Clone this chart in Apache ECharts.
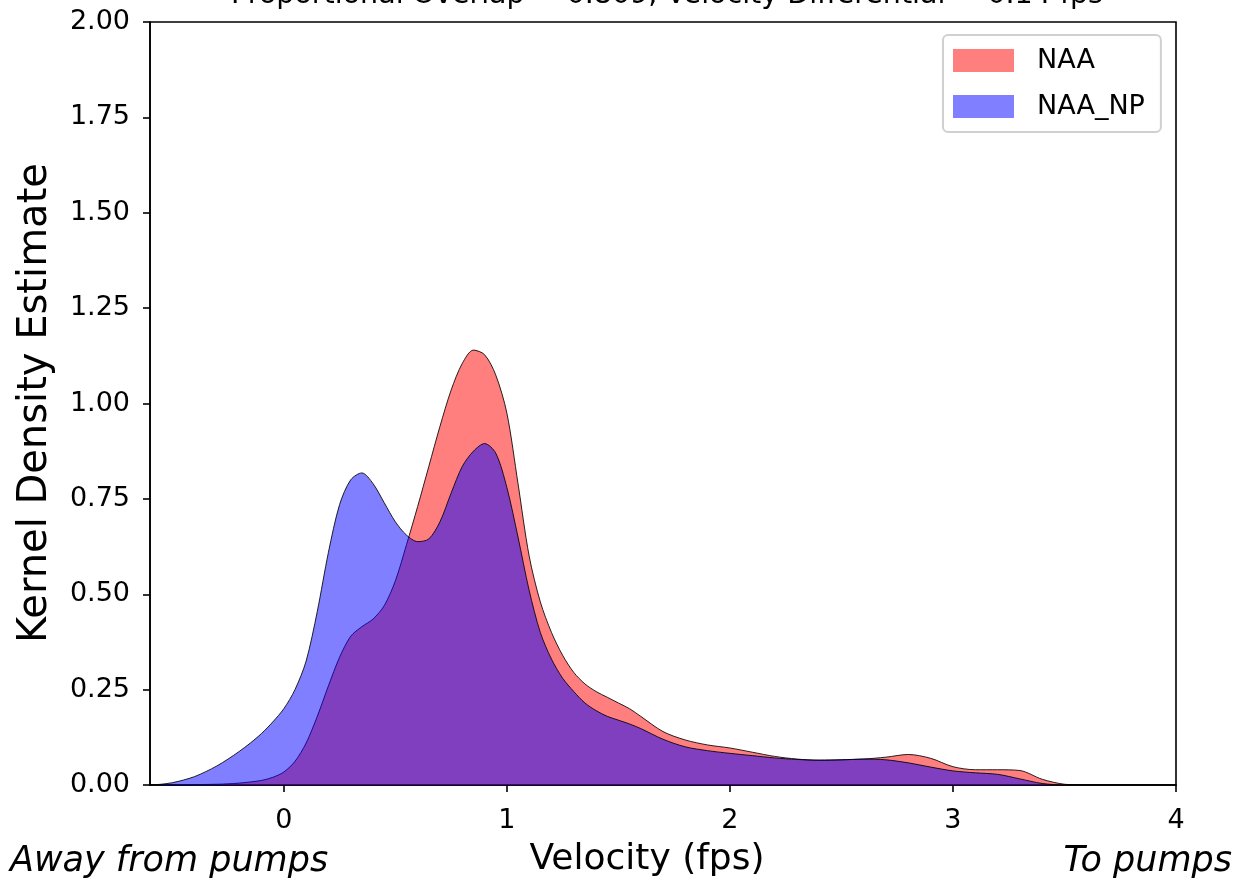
<!DOCTYPE html>
<html>
<head>
<meta charset="utf-8">
<script src="https://cdn.jsdelivr.net/npm/echarts@6/dist/echarts.min.js"></script>
<style>html,body{margin:0;padding:0;background:#fff}#c{width:1243px;height:884px}</style>
</head>
<body>
<div id="c"></div>
<script>
const seriesNames = ['NAA', 'NAA_NP'];
const naaX = [-0.6,-0.5,-0.4,-0.3,-0.25,-0.2,-0.15,-0.1,-0.05,0,0.05,0.1,0.15,0.2,0.25,0.3,0.35,0.4,0.45,0.5,0.55,0.6,0.65,0.7,0.75,0.8,0.85,0.9,0.95,1.0,1.05,1.1,1.15,1.2,1.25,1.3,1.35,1.4,1.45,1.5,1.55,1.6,1.7,1.8,1.9,2.0,2.1,2.2,2.3,2.4,2.5,2.6,2.7,2.8,2.9,3.0,3.1,3.2,3.3,3.4,3.5,3.6,3.8,4.0];
const naaY = [0,0,0.001,0.002,0.003,0.005,0.008,0.012,0.02,0.034,0.062,0.11,0.18,0.26,0.335,0.39,0.415,0.435,0.47,0.535,0.63,0.73,0.835,0.94,1.035,1.105,1.14,1.128,1.075,0.975,0.79,0.60,0.48,0.40,0.34,0.295,0.265,0.245,0.23,0.215,0.2,0.18,0.14,0.118,0.105,0.097,0.086,0.075,0.068,0.065,0.066,0.068,0.073,0.08,0.07,0.048,0.04,0.04,0.038,0.015,0.002,0,0,0];
const npX = [-0.6,-0.55,-0.5,-0.45,-0.4,-0.35,-0.3,-0.25,-0.2,-0.15,-0.1,-0.05,0,0.05,0.1,0.15,0.2,0.25,0.3,0.35,0.4,0.45,0.5,0.55,0.6,0.65,0.7,0.75,0.8,0.85,0.9,0.95,1.0,1.05,1.1,1.15,1.2,1.25,1.3,1.35,1.4,1.45,1.5,1.55,1.6,1.7,1.8,1.9,2.0,2.1,2.2,2.3,2.4,2.5,2.6,2.7,2.8,2.9,3.0,3.1,3.2,3.3,3.4,3.5,3.6,3.8,4.0];
const npY = [0,0.002,0.006,0.013,0.022,0.035,0.05,0.068,0.088,0.11,0.135,0.165,0.2,0.25,0.325,0.455,0.61,0.735,0.80,0.818,0.79,0.74,0.69,0.655,0.638,0.645,0.69,0.765,0.835,0.875,0.895,0.87,0.78,0.65,0.51,0.40,0.33,0.28,0.245,0.215,0.195,0.18,0.17,0.16,0.148,0.12,0.1,0.09,0.083,0.077,0.071,0.067,0.065,0.066,0.068,0.066,0.058,0.047,0.037,0.032,0.028,0.016,0.004,0,0,0,0];
const xTicks = [0, 1, 2, 3, 4];
const yTicks = [0, 0.25, 0.5, 0.75, 1.0, 1.25, 1.5, 1.75, 2.0];
const titleText = 'Proportional Overlap = 0.809, Velocity Differential = 0.14 fps';
const xLabel = 'Velocity (fps)';
const yLabel = 'Kernel Density Estimate';
const leftNote = 'Away from pumps';
const rightNote = 'To pumps';

const FONT = 'DejaVu Sans';
const chart = echarts.init(document.getElementById('c'), null, {renderer: 'canvas'});
const zip = (xs, ys) => xs.map((x, i) => [x, ys[i]]);
chart.setOption({
  animation: false,
  backgroundColor: '#fff',
  grid: {left: 150, right: 67, top: 22, bottom: 99, show: true, borderColor: '#000', borderWidth: 1.6, backgroundColor: 'transparent'},
  xAxis: {
    type: 'value', min: -0.6, max: 4,
    axisLine: {show: true, onZero: false, lineStyle: {color: '#000', width: 1.6}},
    axisTick: {show: true, length: 7, lineStyle: {color: '#000', width: 1.6}, customValues: xTicks},
    axisLabel: {color: '#000', fontSize: 27, fontFamily: FONT, margin: 22, customValues: xTicks, formatter: v => String(v)},
    splitLine: {show: false}
  },
  yAxis: {
    type: 'value', min: 0, max: 2, interval: 0.25,
    axisLine: {show: true, onZero: false, lineStyle: {color: '#000', width: 1.6}},
    axisTick: {show: true, length: 7, lineStyle: {color: '#000', width: 1.6}, customValues: yTicks},
    axisLabel: {color: '#000', fontSize: 27, fontFamily: FONT, margin: 20, customValues: yTicks, formatter: v => v.toFixed(2)},
    splitLine: {show: false}
  },
  legend: {
    orient: 'vertical', left: 943, top: 35,
    padding: [12, 16, 12, 10], itemWidth: 61, itemHeight: 23, itemGap: 19,
    icon: 'rect',
    borderColor: '#d0d0d0', borderWidth: 2, borderRadius: 5, backgroundColor: '#fff',
    textStyle: {fontSize: 27, fontFamily: FONT, color: '#000', lineHeight: 23, padding: [0, 0, 0, 18]},
    data: [
      {name: seriesNames[0], icon: 'rect', itemStyle: {color: 'rgba(255,0,0,0.5)', borderWidth: 0}},
      {name: seriesNames[1], icon: 'rect', itemStyle: {color: 'rgba(0,0,255,0.5)', borderWidth: 0}}
    ]
  },
  series: [
    {name: seriesNames[0], type: 'line', data: zip(naaX, naaY), smooth: 0.3, symbol: 'none',
     color: 'rgba(255,0,0,0.5)',
     lineStyle: {color: '#000', width: 1, opacity: 0.85},
     areaStyle: {color: 'rgba(255,0,0,0.5)', opacity: 1}, z: 2},
    {name: seriesNames[1], type: 'line', data: zip(npX, npY), smooth: 0.3, symbol: 'none',
     color: 'rgba(0,0,255,0.5)',
     lineStyle: {color: '#000', width: 1, opacity: 0.85},
     areaStyle: {color: 'rgba(0,0,255,0.5)', opacity: 1}, z: 3}
  ],
  graphic: [
    {type: 'text', x: 667, y: -4, style: {text: titleText, fontSize: 28.5, fontFamily: FONT, fill: '#000', align: 'center', verticalAlign: 'middle'}},
    {type: 'text', x: 36, y: 403, rotation: Math.PI / 2, style: {text: yLabel, fontSize: 40, fontFamily: FONT, fill: '#000', align: 'center', verticalAlign: 'middle'}},
    {type: 'text', x: 647, y: 860, style: {text: xLabel, fontSize: 36, fontFamily: FONT, fill: '#000', align: 'center', verticalAlign: 'middle'}},
    {type: 'text', x: 10, y: 862, style: {text: leftNote, fontSize: 35, fontStyle: 'italic', fontFamily: FONT, fill: '#000', align: 'left', verticalAlign: 'middle'}},
    {type: 'text', x: 1232, y: 862, style: {text: rightNote, fontSize: 35, fontStyle: 'italic', fontFamily: FONT, fill: '#000', align: 'right', verticalAlign: 'middle'}}
  ]
});
</script>
</body>
</html>
